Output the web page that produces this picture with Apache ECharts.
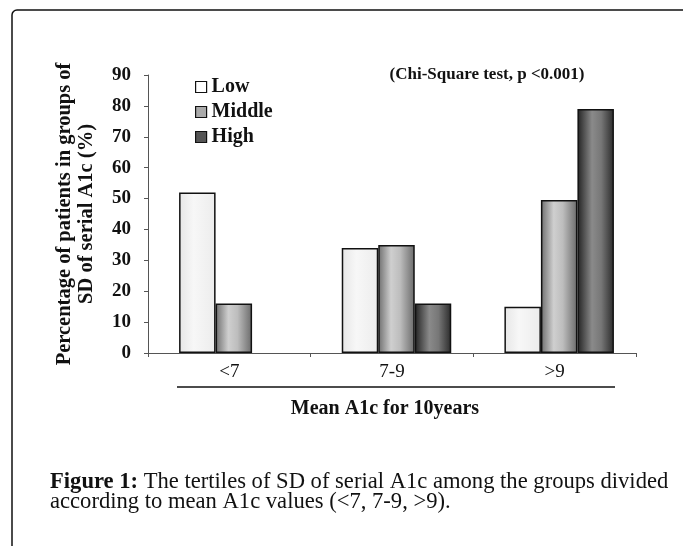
<!DOCTYPE html>
<html>
<head>
<meta charset="utf-8">
<script src="https://cdn.jsdelivr.net/npm/echarts@6/dist/echarts.min.js"></script>
<style>
  html, body { margin: 0; padding: 0; background: #fff; }
  #chart { width: 683px; height: 546px; }
</style>
</head>
<body>
<div id="chart"></div>
<script>
// data
const categories = ["<7", "7-9", ">9"];
const lowValues = [52, 34, 15];
const middleValues = [16, 35, 49.5];
const highValues = [0, 16, 79];
const yTicks = [0, 10, 20, 30, 40, 50, 60, 70, 80, 90];

const serif = "Liberation Serif";

const myChart = echarts.init(document.getElementById("chart"));

function hGrad(stops) {
  return new echarts.graphic.LinearGradient(0, 0, 1, 0, stops);
}

const lowFill = hGrad([
  { offset: 0, color: "#e6e6e6" },
  { offset: 0.4, color: "#f7f7f7" },
  { offset: 1, color: "#ececec" },
]);
const middleFill = hGrad([
  { offset: 0, color: "#6e6e6e" },
  { offset: 0.35, color: "#cfcfcf" },
  { offset: 0.6, color: "#bdbdbd" },
  { offset: 1, color: "#6a6a6a" },
]);
const highFill = hGrad([
  { offset: 0, color: "#222" },
  { offset: 0.4, color: "#8a8a8a" },
  { offset: 0.65, color: "#777" },
  { offset: 1, color: "#2a2a2a" },
]);

function barSeries(name, values, fill) {
  return {
    name: name,
    type: "bar",
    data: values.map((v) => (v === 0 ? "-" : v)),
    barWidth: 36.5,
    barGap: "0%",
    itemStyle: { color: fill, borderColor: "#111", borderWidth: 1.5 },
  };
}

const option = {
  animation: false,
  backgroundColor: "#fff",
  textStyle: { fontFamily: serif, color: "#000" },
  grid: { left: 148, right: 47, top: 75, bottom: 193 },
  legend: {
    orient: "vertical",
    left: 190,
    top: 72,
    itemWidth: 11,
    itemHeight: 11,
    itemGap: 5,
    icon: "rect",
    textStyle: { fontFamily: serif, fontSize: 20, fontWeight: "bold", color: "#111" },
    data: [
      { name: "Low", itemStyle: { color: "#fff", borderColor: "#111", borderWidth: 1.2 } },
      { name: "Middle", itemStyle: { color: "#aaa", borderColor: "#111", borderWidth: 1.2 } },
      { name: "High", itemStyle: { color: "#555", borderColor: "#111", borderWidth: 1.2 } },
    ],
  },
  xAxis: {
    type: "category",
    data: categories,
    axisLine: { lineStyle: { color: "#555", width: 1 } },
    axisTick: { show: true, length: 4, inside: false, lineStyle: { color: "#555" } },
    axisLabel: { fontFamily: serif, fontSize: 19, color: "#111", margin: 10 },
  },
  yAxis: {
    type: "value",
    min: yTicks[0],
    max: yTicks[yTicks.length - 1],
    interval: 10,
    name: "Percentage of patients in groups of\nSD of serial A1c (%)",
    nameLocation: "middle",
    nameRotate: 90,
    nameGap: 50,
    nameTextStyle: { fontFamily: serif, fontSize: 20.5, fontWeight: "bold", color: "#111", lineHeight: 22 },
    axisLine: { show: true, lineStyle: { color: "#555", width: 1 } },
    axisTick: { show: true, length: 4, lineStyle: { color: "#555" } },
    splitLine: { show: false },
    axisLabel: { fontFamily: serif, fontSize: 19, fontWeight: "bold", color: "#111", margin: 17 },
  },
  series: [
    // empty spacer so the bar groups sit a little right of centre, as in the figure
    { name: "spacer", type: "bar", data: ["-", "-", "-"], barWidth: 9, barGap: "0%", silent: true },
    barSeries("Low", lowValues, lowFill),
    barSeries("Middle", middleValues, middleFill),
    barSeries("High", highValues, highFill),
  ],
  graphic: [
    {
      type: "rect",
      shape: { x: 12, y: 10, width: 720, height: 600, r: 5 },
      style: { fill: null, stroke: "#111", lineWidth: 1.5 },
      silent: true,
    },
    {
      type: "text",
      x: 487,
      y: 75,
      style: {
        text: "(Chi-Square test, p <0.001)",
        fontFamily: serif,
        fontSize: 17,
        fontWeight: "bold",
        fill: "#111",
        align: "center",
        verticalAlign: "middle",
      },
    },
    {
      type: "line",
      shape: { x1: 177, y1: 387, x2: 615, y2: 387 },
      style: { stroke: "#111", lineWidth: 1.5 },
    },
    {
      type: "text",
      x: 385,
      y: 409,
      style: {
        text: "Mean A1c for 10years",
        fontFamily: serif,
        fontSize: 20,
        fontWeight: "bold",
        fill: "#111",
        align: "center",
        verticalAlign: "middle",
      },
    },
    {
      type: "text",
      x: 50,
      y: 472,
      style: {
        text: "{b|Figure 1:} The tertiles of SD of serial A1c among the groups divided\naccording to mean A1c values (<7, 7-9, >9).",
        fontFamily: serif,
        fontSize: 22.6,
        lineHeight: 20,
        fill: "#111",
        rich: {
          b: { fontFamily: serif, fontSize: 22.6, fontWeight: "bold", fill: "#111", lineHeight: 20 },
        },
      },
    },
  ],
};

myChart.setOption(option);
</script>
</body>
</html>
